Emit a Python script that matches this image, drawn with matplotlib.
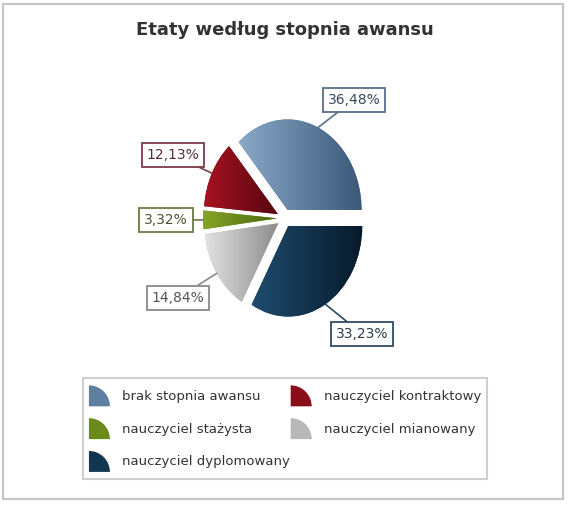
import numpy as np
import matplotlib
matplotlib.use("Agg")
import matplotlib.pyplot as plt
from matplotlib.colors import LinearSegmentedColormap
from matplotlib.patches import Wedge, Patch, Rectangle
from matplotlib.legend_handler import HandlerPatch

# data (percent of etaty)
categories = ['brak stopnia awansu', 'nauczyciel kontraktowy', 'nauczyciel stażysta',
              'nauczyciel mianowany', 'nauczyciel dyplomowany']
shares = [36.48, 12.13, 3.32, 14.84, 33.23]

# styles
light = ['#8aa8c8', '#a81220', '#86a626', '#e2e2e2', '#1e4c6e']
dark = ['#3a5878', '#560610', '#4a660e', '#8c8c8c', '#081a2a']
mid = ['#5f7fa0', '#8a0e1a', '#6a8a1c', '#b8b8b8', '#123652']
box_ec = ['#58708a', '#7a3c46', '#6c7a44', '#8a8a8a', '#304a62']
txt_c = ['#3a4a5c', '#5a2a32', '#4a5530', '#555555', '#2c3c4c']
label_pos = [(0.94, 1.31), (-1.51, 0.70), (-1.60, -0.02), (-1.44, -0.88), (1.05, -1.28)]

W, H = 568, 505
fig = plt.figure(figsize=(W / 100, H / 100), dpi=100)

# pie axes: unit circle maps to an ellipse rx=74px, ry=90.5px
cx, cy, rx, ry, lim = 284.5, 218.2, 74.0, 90.5, 1.3
ax = fig.add_axes([(cx - lim * rx) / W, (H - cy - lim * ry) / H,
                   2 * lim * rx / W, 2 * lim * ry / H])
wedges, _ = ax.pie(shares, startangle=0, counterclock=True,
                   explode=[0.1] * len(shares), colors=mid,
                   wedgeprops=dict(linewidth=0))
ax.set_aspect('auto')

grad = np.linspace(0, 1, 256).reshape(1, -1)
for w, c0, c1 in zip(wedges, light, dark):
    ext = w.get_path().get_extents()
    cmap = LinearSegmentedColormap.from_list('g', [c0, c1])
    im = ax.imshow(grad, extent=[ext.x0, ext.x1, ext.y0, ext.y1], cmap=cmap,
                   aspect='auto', interpolation='bilinear', zorder=2)
    im.set_clip_path(w)

ax.set_xlim(-lim, lim)
ax.set_ylim(-lim, lim)
ax.axis('off')

# percentage labels with leader lines
for w, v, pos, ec, tc in zip(wedges, shares, label_pos, box_ec, txt_c):
    ang = np.deg2rad((w.theta1 + w.theta2) / 2)
    ax0 = 1.1 * np.cos(ang)
    ay0 = 1.1 * np.sin(ang)
    ax.annotate(f"{v:.2f}".replace('.', ',') + '%', xy=(ax0, ay0), xytext=pos,
                ha='center', va='center', fontsize=10, color=tc, zorder=5,
                bbox=dict(boxstyle='square,pad=0.35', fc='white', ec=ec, lw=1.3),
                arrowprops=dict(arrowstyle='-', color=ec, lw=1.2,
                                shrinkA=0, shrinkB=0))

fig.text(285 / W, 1 - 30 / H, 'Etaty według stopnia awansu', ha='center', va='center',
         fontsize=13, fontweight='bold', color='#333333')


def quarter(legend, orig_handle, xdescent, ydescent, width, height, fontsize):
    r = 0.88 * height
    return Wedge((-xdescent, -ydescent + (height - r) / 2), r, 0, 90)


order = [0, 2, 4, 1, 3]
handles = [Patch(facecolor=mid[i], edgecolor='none') for i in order]
labels = [categories[i] for i in order]
leg = fig.legend(handles, labels, ncol=2, mode='expand', loc='upper left',
                 bbox_to_anchor=(83 / W, 1 - 480 / H, 404 / W, 102 / H),
                 bbox_transform=fig.transFigure, fontsize=9.5, frameon=True,
                 fancybox=False, borderpad=0.45, labelspacing=0.68,
                 handlelength=2.1, handleheight=2.4, handletextpad=0.4,
                 borderaxespad=0,
                 handler_map={Patch: HandlerPatch(patch_func=quarter)})
leg.get_frame().set_edgecolor('#c4c4c4')
leg.get_frame().set_linewidth(1.5)
for t in leg.get_texts():
    t.set_color('#333333')

fig.add_artist(Rectangle((3 / W, 1 - 499 / H), 560 / W, 495 / H, transform=fig.transFigure,
                         fill=False, ec='#c6c6c6', lw=1.6))

fig.savefig('out.png', dpi=100)
